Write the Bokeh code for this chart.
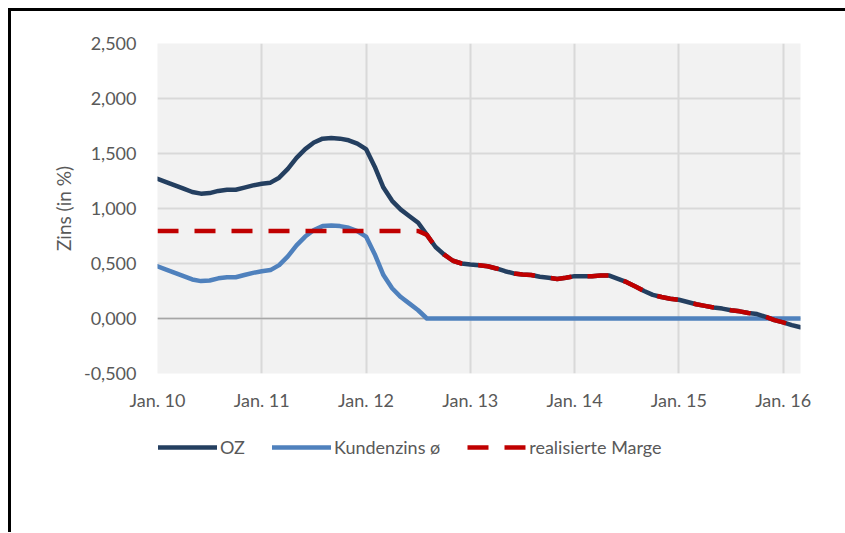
from bokeh.plotting import figure
from bokeh.layouts import column
from bokeh.models import Range1d, FixedTicker, Span, Legend, LegendItem
from bokeh.embed import file_html
from bokeh.resources import INLINE

# month index (0 = Jan 2010, monthly until Mar 2016)
months = list(range(75))
oz = [1.27, 1.24, 1.21, 1.18, 1.15, 1.135, 1.14, 1.16, 1.17, 1.17, 1.19, 1.21,
      1.225, 1.235, 1.28, 1.36, 1.46, 1.54, 1.60, 1.635, 1.64, 1.635, 1.62, 1.59,
      1.54, 1.38, 1.19, 1.07, 0.99, 0.93, 0.87, 0.76, 0.65, 0.58, 0.525, 0.50,
      0.49, 0.485, 0.475, 0.455, 0.43, 0.41, 0.40, 0.395, 0.38, 0.37, 0.36, 0.37,
      0.385, 0.385, 0.385, 0.39, 0.39, 0.36, 0.33, 0.29, 0.25, 0.215, 0.195, 0.18,
      0.17, 0.15, 0.13, 0.115, 0.10, 0.09, 0.075, 0.065, 0.05, 0.04, 0.015, -0.015,
      -0.035, -0.06, -0.08]
kundenzins = [0.475, 0.445, 0.415, 0.385, 0.355, 0.34, 0.345, 0.365, 0.375, 0.375, 0.395, 0.415,
              0.43, 0.44, 0.485, 0.565, 0.665, 0.745, 0.805, 0.84, 0.845, 0.84, 0.825, 0.795,
              0.745, 0.585, 0.395, 0.275, 0.195, 0.135, 0.075, 0.0, 0.0, 0.0, 0.0, 0.0,
              0.0, 0.0, 0.0, 0.0, 0.0, 0.0, 0.0, 0.0, 0.0, 0.0, 0.0, 0.0,
              0.0, 0.0, 0.0, 0.0, 0.0, 0.0, 0.0, 0.0, 0.0, 0.0, 0.0, 0.0,
              0.0, 0.0, 0.0, 0.0, 0.0, 0.0, 0.0, 0.0, 0.0, 0.0, 0.0, 0.0,
              0.0, 0.0, 0.0]
marge = [0.795] * 31 + [0.76, 0.65, 0.58, 0.525, 0.50,
      0.49, 0.485, 0.475, 0.455, 0.43, 0.41, 0.40, 0.395, 0.38, 0.37, 0.36, 0.37,
      0.385, 0.385, 0.385, 0.39, 0.39, 0.36, 0.33, 0.29, 0.25, 0.215, 0.195, 0.18,
      0.17, 0.15, 0.13, 0.115, 0.10, 0.09, 0.075, 0.065, 0.05, 0.04, 0.015, -0.015,
      -0.035, -0.06, -0.08]

x_ticks = [0, 12, 24, 36, 48, 60, 72]
x_labels = ["Jan. 10", "Jan. 11", "Jan. 12", "Jan. 13", "Jan. 14", "Jan. 15", "Jan. 16"]
y_ticks = [-0.5, 0.0, 0.5, 1.0, 1.5, 2.0, 2.5]
y_labels = ["-0,500", "0,000", "0,500", "1,000", "1,500", "2,000", "2,500"]
series_names = ["OZ", "Kundenzins ø", "realisierte Marge"]

FONT = "Lato"
TXT = "#595959"
FS = "18px"
C_OZ, C_K, C_M = "#243f60", "#4f81bd", "#c00000"

p = figure(width=834, height=420, output_backend="svg", toolbar_location=None,
           x_range=Range1d(0, 74), y_range=Range1d(-0.5, 2.5),
           min_border_left=146, min_border_right=45, min_border_top=32, min_border_bottom=58)
p.background_fill_color = "#f2f2f2"
p.border_fill_color = "white"
p.outline_line_color = None

for ax in (p.xaxis[0], p.yaxis[0]):
    ax.axis_line_color = None
    ax.major_tick_line_color = None
    ax.minor_tick_line_color = None
    ax.major_label_text_font = FONT
    ax.major_label_text_font_size = FS
    ax.major_label_text_color = TXT

p.xaxis.ticker = FixedTicker(ticks=x_ticks)
p.xaxis.major_label_overrides = {t: l for t, l in zip(x_ticks, x_labels)}
p.xaxis.major_label_standoff = 9
p.yaxis.ticker = FixedTicker(ticks=y_ticks)
p.yaxis.major_label_overrides = {t: l for t, l in zip(y_ticks, y_labels)}
p.yaxis.major_label_standoff = 15
p.yaxis.axis_label = "Zins (in %)"
p.yaxis.axis_label_text_font = FONT
p.yaxis.axis_label_text_font_size = "19px"
p.yaxis.axis_label_text_font_style = "normal"
p.yaxis.axis_label_text_color = TXT
p.yaxis.axis_label_standoff = 6

for g in (p.xgrid[0], p.ygrid[0]):
    g.grid_line_color = "#d9d9d9"
    g.grid_line_width = 2

p.add_layout(Span(location=0, dimension="width", line_color="#a6a6a6", line_width=1.5, level="underlay"))

p.line(months, kundenzins, line_color=C_K, line_width=4.5, line_join="round", line_cap="round")
p.line(months, oz, line_color=C_OZ, line_width=4.5, line_join="round", line_cap="round")
p.line(months, marge, line_color=C_M, line_width=4.5, line_dash="21 16", line_join="round")

# legend strip (its renderers use the same series but lie outside the visible range)
q = figure(width=834, height=101, output_backend="svg", toolbar_location=None,
           x_range=Range1d(0, 74), y_range=Range1d(10, 11),
           min_border_left=0, min_border_right=0, min_border_top=0, min_border_bottom=0)
q.axis.visible = False
q.grid.visible = False
q.outline_line_color = None
q.background_fill_color = "white"
q.border_fill_color = "white"
l_oz = q.line(months, oz, line_color=C_OZ, line_width=4.5, line_cap="round")
l_k = q.line(months, kundenzins, line_color=C_K, line_width=4.5, line_cap="round")
l_m = q.line(months, marge, line_color=C_M, line_width=4.5, line_dash="21 16")
legend = Legend(items=[LegendItem(label=series_names[0], renderers=[l_oz]),
                       LegendItem(label=series_names[1], renderers=[l_k]),
                       LegendItem(label=series_names[2], renderers=[l_m])],
                orientation="horizontal", location=(1, 74),
                glyph_width=59, glyph_height=20, label_standoff=3, spacing=27,
                padding=0, margin=0, border_line_color=None, background_fill_alpha=0,
                label_text_font=FONT, label_text_font_size=FS, label_text_color=TXT)
q.add_layout(legend, "center")

layout = column(p, q, spacing=0)
layout.styles = {"border-left": "3px solid black", "border-top": "3px solid black",
                 "position": "relative", "left": "8px", "top": "8px"}

open("out.html", "w").write(file_html(layout, INLINE))
